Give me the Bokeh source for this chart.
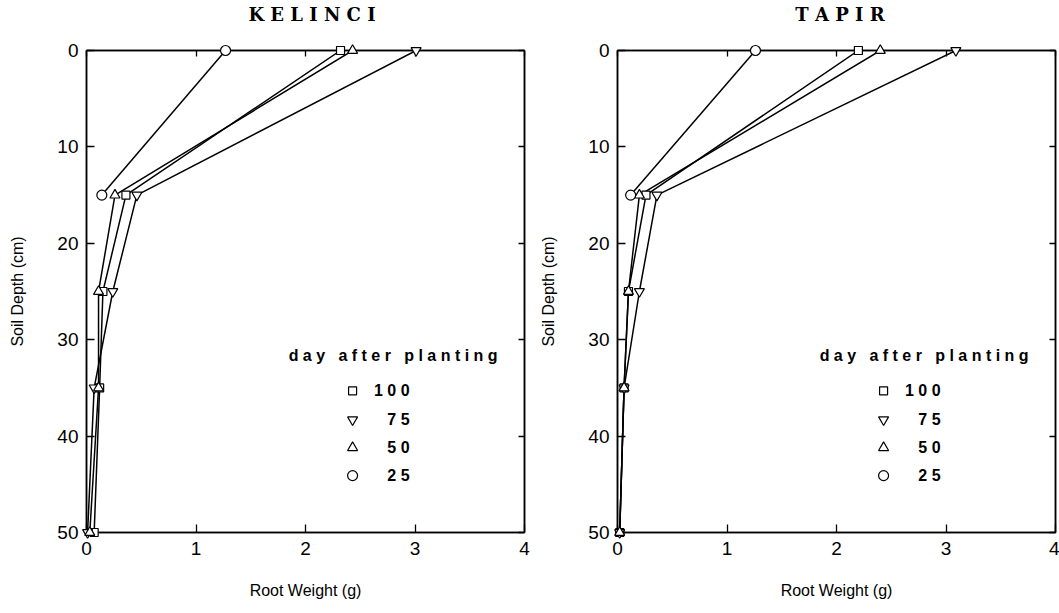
from bokeh.plotting import figure
from bokeh.models import Range1d, FixedTicker, LinearAxis, CustomJSTickFormatter, Div
from bokeh.layouts import row, column
from bokeh.embed import file_html
from bokeh.resources import INLINE
from bokeh.core.properties import value

# Soil depth of each sampling layer (cm)
depth = [0, 15, 25, 35, 50]
depth_day25 = [0, 15]

# Root weight (g) per layer, cultivar KELINCI
kelinci_100 = [2.32, 0.36, 0.15, 0.12, 0.07]
kelinci_75 = [3.01, 0.46, 0.24, 0.07, 0.01]
kelinci_50 = [2.43, 0.26, 0.11, 0.11, 0.03]
kelinci_25 = [1.27, 0.14]

# Root weight (g) per layer, cultivar TAPIR
tapir_100 = [2.20, 0.26, 0.10, 0.06, 0.02]
tapir_75 = [3.09, 0.36, 0.20, 0.06, 0.02]
tapir_50 = [2.40, 0.20, 0.10, 0.06, 0.02]
tapir_25 = [1.26, 0.12]

x_ticks = [0, 1, 2, 3, 4]
y_ticks = [0, 10, 20, 30, 40, 50]

NB = "\u00a0"
legend_title = f"d a y {NB} a f t e r {NB} p l a n t i n g"
legend_days = ["1 0 0", "7 5", "5 0", "2 5"]
markers = ["square", "inverted_triangle", "triangle", "circle"]
marker_sizes = [8, 10, 10, 10]

TICK_FONT = "Liberation Sans"
HEAD_H = 30
FIG_H = 613 - HEAD_H


def heading(text, pad_left, width):
    html = (f'<div style="width:438px;margin-left:{pad_left}px;text-align:center;'
            f"font-family:'DejaVu Serif';font-weight:bold;font-size:18px;"
            f'line-height:{HEAD_H}px;color:black;white-space:pre;">{text}</div>')
    return Div(text=html, width=width, height=HEAD_H, margin=(0, 0, 0, 0))


def bare_axis(ticks):
    # an axis that only contributes inward tick marks on the box edge
    return LinearAxis(ticker=FixedTicker(ticks=ticks),
                      formatter=CustomJSTickFormatter(code="return ''"),
                      major_tick_in=6, major_tick_out=0, minor_tick_in=0, minor_tick_out=0,
                      major_label_standoff=0, axis_line_width=1.5, major_tick_line_width=1.3)


def panel(series, depths, width, border_left, border_right):
    p = figure(width=width, height=FIG_H,
               x_range=Range1d(0, 4), y_range=Range1d(50, 0),
               output_backend="svg", toolbar_location=None,
               min_border_left=border_left, min_border_right=border_right,
               min_border_top=50 - HEAD_H, min_border_bottom=81,
               background_fill_color="white", border_fill_color="white")
    p.grid.visible = False
    p.outline_line_color = "black"
    p.outline_line_width = 1.5

    p.xaxis.ticker = FixedTicker(ticks=x_ticks)
    p.yaxis.ticker = FixedTicker(ticks=y_ticks)
    p.xaxis.axis_label = "Root Weight (g)"
    p.yaxis.axis_label = "Soil Depth (cm)"
    for ax in (p.xaxis, p.yaxis):
        ax.major_tick_in = 8
        ax.major_tick_out = 0
        ax.minor_tick_in = 0
        ax.minor_tick_out = 0
        ax.axis_line_width = 1.5
        ax.major_tick_line_width = 1.3
        ax.major_label_text_font = TICK_FONT
        ax.major_label_text_font_size = "19px"
        ax.major_label_text_color = "black"
        ax.axis_label_text_font = TICK_FONT
        ax.axis_label_text_font_size = "16px"
        ax.axis_label_text_font_style = "normal"
        ax.axis_label_text_color = "black"
    p.xaxis.major_label_standoff = 9
    p.xaxis.axis_label_standoff = 24
    p.yaxis.major_label_standoff = 8
    p.yaxis.axis_label_standoff = 28

    p.add_layout(bare_axis(x_ticks), "above")
    p.add_layout(bare_axis(y_ticks), "right")

    for vals, d, m, s in zip(series, depths, markers, marker_sizes):
        p.line(vals, d, line_color="black", line_width=1.5)
        r = p.scatter(vals, d, marker=m, size=s, fill_color="white",
                      line_color="black", line_width=1.2)
        r.level = "overlay"

    # legend block
    p.text([2.80], [31.6], text=[legend_title], text_font=value("Liberation Sans"),
           text_font_style="bold", text_font_size="16px", text_align="center",
           text_baseline="middle", text_color="black")
    leg_y = [35.3, 38.3, 41.2, 44.1]
    for m, s, yy, lab in zip(markers, marker_sizes, leg_y, legend_days):
        p.scatter([2.43], [yy], marker=m, size=s, fill_color="white",
                  line_color="black", line_width=1.2)
        p.text([2.95], [yy], text=[lab], text_font=value("Liberation Sans"),
               text_font_style="bold", text_font_size="16px", text_align="right",
               text_baseline="middle", text_color="black")
    return p


depths = [depth, depth, depth, depth_day25]
left = panel([kelinci_100, kelinci_75, kelinci_50, kelinci_25], depths, 530, 86, 6)
right_p = panel([tapir_100, tapir_75, tapir_50, tapir_25], depths, 529, 87, 4)

layout = row(
    column(heading("K E L I N C I", 93, 530), left, spacing=0),
    column(heading("T A P I R", 91, 529), right_p, spacing=0),
    spacing=0,
)
with open("out.html", "w") as f:
    f.write(file_html(layout, INLINE))
